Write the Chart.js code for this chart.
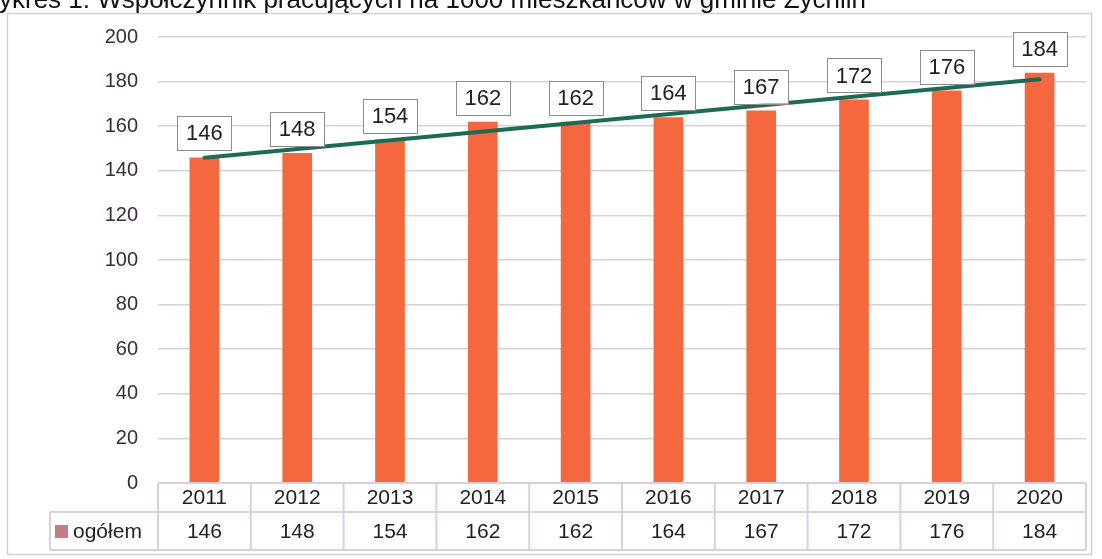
<!DOCTYPE html>
<html>
<head>
<meta charset="utf-8">
<script src="https://cdn.jsdelivr.net/npm/chart.js@4.4.1/dist/chart.umd.min.js"></script>
<style>
  html, body { margin: 0; padding: 0; background: #fff; }
  #wrap { position: relative; width: 1102px; height: 559px; }
</style>
</head>
<body>
<div id="wrap"><canvas id="wspolczynnik" width="1102" height="559"></canvas></div>
<script>
const title = 'Wykres 1. Współczynnik pracujących na 1000 mieszkańców w gminie Żychlin';
const years = ['2011', '2012', '2013', '2014', '2015', '2016', '2017', '2018', '2019', '2020'];
const ogolem = [146, 148, 154, 162, 162, 164, 167, 172, 176, 184];
// trend line ends (linear trend)
const trend = [145.9, null, null, null, null, null, null, null, null, 181.1];
const seriesName = 'ogółem';

const barColor = '#f5683f';
const gridColor = '#dccfdc';
const font = '"Liberation Sans", Arial, sans-serif';

const extras = {
  id: 'extras',
  beforeDraw(chart) {
    const ctx = chart.ctx;
    ctx.save();
    // frame
    ctx.strokeStyle = '#d2d2d2';
    ctx.lineWidth = 1.5;
    ctx.strokeRect(7.5, 13.5, 1084, 541);
    // title, cut off at the top like the scan
    ctx.fillStyle = '#111';
    ctx.font = '26px ' + font;
    ctx.textAlign = 'right';
    ctx.textBaseline = 'alphabetic';
    ctx.fillText(title, 866, 8);
    ctx.restore();
  },
  afterDraw(chart) {
    const ctx = chart.ctx;
    const x = chart.scales.x;
    const y = chart.scales.y;
    const meta = chart.getDatasetMeta(1);
    ctx.save();

    // data labels in boxes
    ctx.font = '22px ' + font;
    ctx.textAlign = 'center';
    ctx.textBaseline = 'middle';
    meta.data.forEach((bar, i) => {
      const w = 54, h = 34;
      const bx = bar.x - w / 2;
      const by = bar.y - 7 - h;
      ctx.fillStyle = '#fff';
      ctx.fillRect(bx, by, w, h);
      ctx.strokeStyle = '#8c8c8c';
      ctx.lineWidth = 1;
      ctx.strokeRect(Math.round(bx) + 0.5, Math.round(by) + 0.5, w, h);
      ctx.fillStyle = '#222';
      ctx.fillText(String(ogolem[i]), bar.x, by + h / 2 + 1);
    });

    // data table
    const top = y.getPixelForValue(0);
    const mid = top + 29;
    const bottom = top + 67;
    const left = x.left;
    const right = x.right;
    const step = (right - left) / years.length;
    ctx.strokeStyle = gridColor;
    ctx.lineWidth = 2;
    ctx.beginPath();
    ctx.moveTo(left, top); ctx.lineTo(right, top);
    ctx.moveTo(50, mid); ctx.lineTo(right, mid);
    ctx.moveTo(50, bottom); ctx.lineTo(right, bottom);
    for (let i = 0; i <= years.length; i++) {
      const px = left + i * step;
      ctx.moveTo(px, top); ctx.lineTo(px, bottom);
    }
    ctx.moveTo(50, mid); ctx.lineTo(50, bottom);
    ctx.stroke();

    ctx.fillStyle = '#222';
    ctx.font = '21px ' + font;
    ctx.textAlign = 'center';
    years.forEach((yr, i) => {
      const cx = x.getPixelForValue(i);
      ctx.fillText(yr, cx, (top + mid) / 2 + 1);
      ctx.fillText(String(ogolem[i]), cx, (mid + bottom) / 2 + 1);
    });
    // legend key
    ctx.fillStyle = '#c47d80';
    ctx.fillRect(55, (mid + bottom) / 2 - 6, 13, 13);
    ctx.fillStyle = '#222';
    ctx.textAlign = 'left';
    ctx.fillText(seriesName, 73, (mid + bottom) / 2 + 1);
    ctx.restore();
  }
};

new Chart(document.getElementById('wspolczynnik'), {
  data: {
    labels: years,
    datasets: [
      {
        type: 'line',
        label: 'trend',
        data: trend,
        spanGaps: true,
        borderColor: '#1d6b55',
        borderWidth: 4,
        pointRadius: 0,
        borderCapStyle: 'round',
        order: 0
      },
      {
        type: 'bar',
        label: seriesName,
        data: ogolem,
        backgroundColor: barColor,
        barPercentage: 0.32,
        categoryPercentage: 1,
        order: 1
      }
    ]
  },
  options: {
    responsive: false,
    animation: false,
    layout: { padding: { left: 75, right: 16, top: 37, bottom: 76 } },
    plugins: {
      legend: { display: false },
      tooltip: { enabled: false }
    },
    scales: {
      x: {
        display: false,
        offset: true
      },
      y: {
        min: 0,
        max: 200,
        afterFit(scale) { scale.width = 83; },
        border: { display: false },
        grid: {
          drawTicks: false,
          color: ctx => ctx.tick.value === 0 ? 'rgba(0,0,0,0)' : gridColor,
          lineWidth: 1.5
        },
        ticks: {
          stepSize: 20,
          padding: 20,
          color: '#3a2a3c',
          font: { family: font, size: 20 }
        }
      }
    }
  },
  plugins: [extras]
});
</script>
</body>
</html>
